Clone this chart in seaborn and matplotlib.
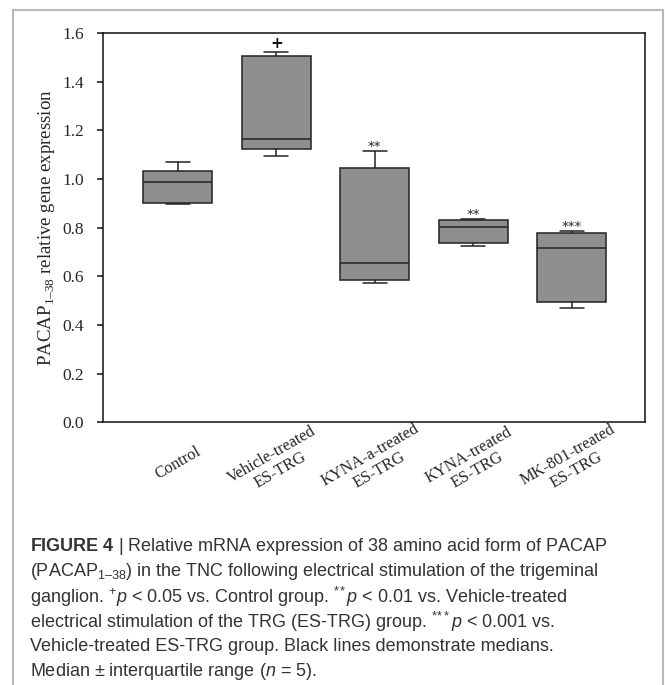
import matplotlib
matplotlib.use("Agg")
from matplotlib import pyplot as plt
from matplotlib.patches import Rectangle
import seaborn as sns
import pandas as pd
import numpy as np

groups = ["Control", "Vehicle-treated\nES-TRG", "KYNA-a-treated\nES-TRG",
          "KYNA-treated\nES-TRG", "MK-801-treated\nES-TRG"]
# min, Q1, median, Q3, max (n = 5)
control = [0.897, 0.901, 0.987, 1.034, 1.072]
vehicle = [1.094, 1.125, 1.164, 1.508, 1.521]
kyna_a = [0.574, 0.584, 0.657, 1.045, 1.117]
kyna = [0.726, 0.738, 0.805, 0.832, 0.836]
mk801 = [0.469, 0.494, 0.716, 0.780, 0.786]
marks = ["", "+", "**", "**", "***"]
yticks = [0.0, 0.2, 0.4, 0.6, 0.8, 1.0, 1.2, 1.4, 1.6]

caption = [
    r"$\mathbf{FIGURE\ 4}$ | Relative mRNA expression of 38 amino acid form of PACAP",
    r"(PACAP$_{\mathregular{1–38}}$) in the TNC following electrical stimulation of the trigeminal",
    r"ganglion. $^{+}\mathit{p}$ < 0.05 vs. Control group. $^{*\!*}\mathit{p}$ < 0.01 vs. Vehicle-treated",
    r"electrical stimulation of the TRG (ES-TRG) group. $^{*\!*\!*}\mathit{p}$ < 0.001 vs.",
    "Vehicle-treated ES-TRG group. Black lines demonstrate medians.",
    r"Median ± interquartile range ($\mathit{n}$ = 5).",
]

values = [control, vehicle, kyna_a, kyna, mk801]
df = pd.DataFrame({"group": np.repeat(groups, 5),
                   "value": np.concatenate(values)})

sns.set_style("ticks")
plt.rcParams["font.family"] = ["Liberation Serif", "DejaVu Serif"]
plt.rcParams["mathtext.fontset"] = "custom"
plt.rcParams["mathtext.rm"] = "Liberation Sans"
plt.rcParams["mathtext.it"] = "Liberation Sans:italic"
plt.rcParams["mathtext.bf"] = "Liberation Sans:bold"

fig = plt.figure(figsize=(6.65, 6.85), dpi=100)
ax = fig.add_axes([0.1549, 0.3835, 0.815, 0.568])

sns.boxplot(data=df, x="group", y="value", order=groups, whis=(0, 100),
            width=0.7, color="#8f8f8f", saturation=1, linecolor="#222222",
            linewidth=1.1, capwidths=0.24, ax=ax)

for i, vals in enumerate(values):
    if marks[i] == "+":
        ax.annotate(marks[i], (i, max(vals)), xytext=(0, 3.5), textcoords="offset points",
                    ha="center", va="baseline", fontsize=11, fontweight="bold",
                    family="DejaVu Sans", color="#111111")
    elif marks[i]:
        ax.annotate(marks[i], (i, max(vals)), xytext=(0, 0.5), textcoords="offset points",
                    ha="center", va="baseline", fontsize=9.5,
                    family="DejaVu Sans", color="#222222")

ax.set_xlim(-0.76, 4.744)
ax.set_ylim(0, 1.6)
ax.set_yticks(yticks)
ax.set_yticklabels([f"{t:.1f}" for t in yticks], fontsize=12.5)
ax.set_xticks(range(len(groups)))
ax.set_xticklabels(groups, rotation=30, ha="center", va="center",
                   multialignment="center", fontsize=11.8, linespacing=1.1)
ax.tick_params(axis="y", direction="out", length=4, width=1.1, pad=9.5, color="#111111")
ax.tick_params(axis="x", length=0, pad=29)
ax.set_xlabel("")
ax.set_ylabel(r"PACAP$_{\mathregular{1–38}}$ relative gene expression", fontsize=13.6)
ax.yaxis.set_label_coords(-0.085, 0.5)
for s in ax.spines.values():
    s.set_visible(True)
    s.set_linewidth(1.1)
    s.set_color("#111111")

fig.add_artist(Rectangle((13 / 665, -0.05), 650 / 665, 1 - 10 / 685 + 0.05,
                         transform=fig.transFigure, fill=False,
                         edgecolor="#b8b8b8", linewidth=1.5))

for k, line in enumerate(caption):
    y = 546.7 + 25 * k
    fig.text(30 / 665, 1 - y / 685, line, ha="left", va="center", fontsize=13,
             family="Liberation Sans", color="#333333")

fig.savefig("out.png", dpi=100)
